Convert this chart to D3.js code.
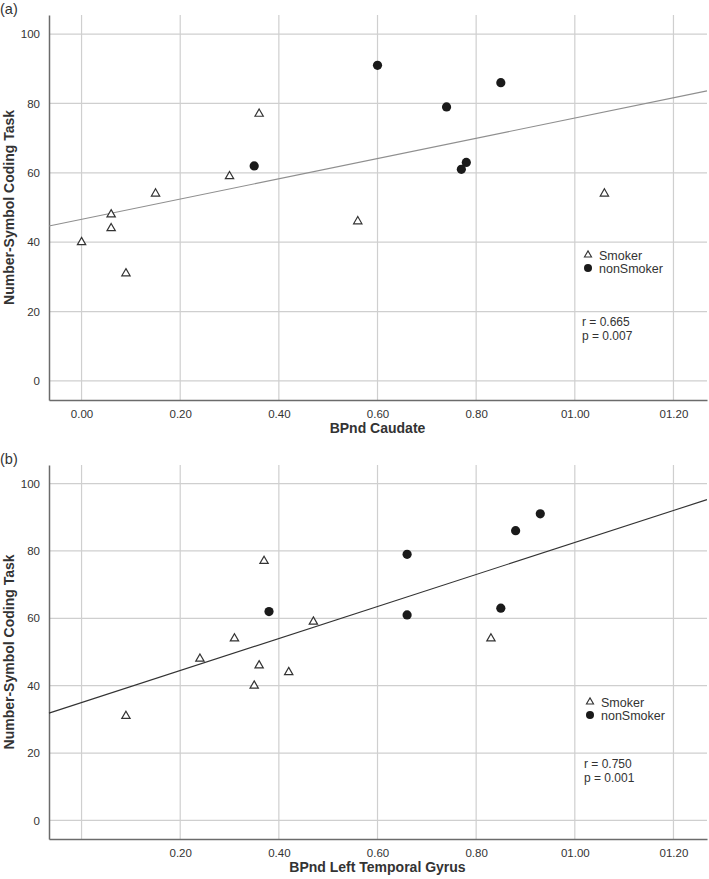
<!DOCTYPE html>
<html><head><meta charset="utf-8">
<script src="https://cdn.jsdelivr.net/npm/d3@7"></script>
<style>body{margin:0;background:#fff}svg{display:block;font-family:"Liberation Sans",Arial,sans-serif}</style>
</head><body><svg id="c" width="709" height="879"></svg>
<script>
// Panel (a): BPnd Caudate
const aSmokerX = [0.00, 0.06, 0.06, 0.09, 0.15, 0.30, 0.36, 0.56, 1.06];
const aSmokerY = [40, 48, 44, 31, 54, 59, 77, 46, 54];
const aNonX = [0.35, 0.60, 0.74, 0.85, 0.78, 0.77];
const aNonY = [62, 91, 79, 86, 63, 61];
const aFit = {intercept: 46.6, slope: 29.2};
const aStats = ["r = 0.665", "p = 0.007"];
// Panel (b): BPnd Left Temporal Gyrus
const bSmokerX = [0.09, 0.24, 0.31, 0.35, 0.36, 0.37, 0.42, 0.47, 0.83];
const bSmokerY = [31, 48, 54, 40, 46, 77, 44, 59, 54];
const bNonX = [0.38, 0.66, 0.66, 0.85, 0.88, 0.93];
const bNonY = [62, 79, 61, 63, 86, 91];
const bFit = {intercept: 35.0, slope: 47.5};
const bStats = ["r = 0.750", "p = 0.001"];

const xTicks = [0, 0.2, 0.4, 0.6, 0.8, 1.0, 1.2];
const aXLabels = ["0.00", "0.20", "0.40", "0.60", "0.80", "01.00", "01.20"];
const bXLabels = ["", "0.20", "0.40", "0.60", "0.80", "01.00", "01.20"];
const yTicks = [0, 20, 40, 60, 80, 100];
const legendLabels = ["Smoker", "nonSmoker"];

const svg = d3.select("#c");

function panel(o) {
  const g = svg.append("g");
  const x = d3.scaleLinear().domain([-0.066, 1.268]).range([49, 707]);
  const y = d3.scaleLinear().domain([-5.5, 105.5]).range([o.bottom, o.top]);
  // grid
  g.selectAll(".vg").data(xTicks).join("line")
    .attr("x1", d => x(d)).attr("x2", d => x(d)).attr("y1", o.top).attr("y2", o.bottom)
    .attr("stroke", "#cfcfcf").attr("stroke-width", 1.2);
  g.selectAll(".hg").data(yTicks).join("line")
    .attr("x1", 49).attr("x2", 707).attr("y1", d => y(d)).attr("y2", d => y(d))
    .attr("stroke", "#cfcfcf").attr("stroke-width", 1.2);
  // axes
  const xa = g.append("g").attr("transform", `translate(0,${o.bottom})`)
    .call(d3.axisBottom(x).tickValues(xTicks).tickSize(0).tickPadding(10)
      .tickFormat((d, i) => o.xLabels[i]));
  xa.select(".domain").attr("stroke", "#6b6b6b").attr("stroke-width", 1.5);
  xa.selectAll("text").attr("font-size", 11.5).attr("fill", "#333").attr("font-family", "Liberation Sans, Arial, sans-serif");
  const ya = g.append("g").attr("transform", `translate(49,0)`)
    .call(d3.axisLeft(y).tickValues(yTicks).tickSize(0).tickPadding(9));
  ya.select(".domain").attr("stroke", "#6b6b6b").attr("stroke-width", 1.5);
  ya.selectAll("text").attr("font-size", 11.5).attr("fill", "#333").attr("font-family", "Liberation Sans, Arial, sans-serif");
  // fit line
  const x0 = -0.066, x1 = 1.268;
  g.append("line")
    .attr("x1", x(x0)).attr("y1", y(o.fit.intercept + o.fit.slope * x0))
    .attr("x2", x(x1)).attr("y2", y(o.fit.intercept + o.fit.slope * x1))
    .attr("stroke", o.fitColor).attr("stroke-width", 1.1);
  // points
  const tri = d3.symbol().type(d3.symbolTriangle).size(30);
  g.selectAll(".s").data(o.sx.map((v, i) => [v, o.sy[i]])).join("path")
    .attr("d", tri).attr("transform", d => `translate(${x(d[0])},${y(d[1])})`)
    .attr("fill", "white").attr("stroke", "#333").attr("stroke-width", 1.2);
  g.selectAll(".n").data(o.nx.map((v, i) => [v, o.ny[i]])).join("circle")
    .attr("cx", d => x(d[0])).attr("cy", d => y(d[1])).attr("r", 4.6)
    .attr("fill", "#1a1a1a");
  // legend
  g.append("path").attr("d", d3.symbol().type(d3.symbolTriangle).size(22))
    .attr("transform", `translate(${o.legX},${o.legY})`)
    .attr("fill", "white").attr("stroke", "#333").attr("stroke-width", 1.1);
  g.append("circle").attr("cx", o.legX).attr("cy", o.legY + 13).attr("r", 4).attr("fill", "#1a1a1a");
  g.selectAll(".lt").data(legendLabels).join("text")
    .attr("x", o.legX + 11).attr("y", (d, i) => o.legY + 4.5 + i * 13)
    .attr("font-size", 12.5).attr("fill", "#333").text(d => d);
  g.selectAll(".st").data(o.stats).join("text")
    .attr("x", o.legX - 6).attr("y", (d, i) => o.statY + i * 14)
    .attr("font-size", 12).attr("fill", "#333").text(d => d);
  // titles
  svg.append("text").attr("x", x(0.6)).attr("y", o.bottom + 33).attr("text-anchor", "middle")
    .attr("font-size", 14).attr("font-weight", "bold").attr("fill", "#333").text(o.xTitle);
  svg.append("text").attr("transform", `translate(14,${(o.top + o.bottom) / 2}) rotate(-90)`)
    .attr("text-anchor", "middle").attr("font-size", 14).attr("font-weight", "bold")
    .attr("fill", "#333").text("Number-Symbol Coding Task");
  svg.append("text").attr("x", 0).attr("y", o.top - 1).attr("font-size", 14.5)
    .attr("fill", "#333").text(o.tag);
}

panel({top: 15, bottom: 400, sx: aSmokerX, sy: aSmokerY, nx: aNonX, ny: aNonY, fit: aFit,
  fitColor: "#8f8f8f", xLabels: aXLabels, stats: aStats, legX: 588, legY: 255, statY: 326,
  xTitle: "BPnd Caudate", tag: "(a)"});
panel({top: 465, bottom: 839, sx: bSmokerX, sy: bSmokerY, nx: bNonX, ny: bNonY, fit: bFit,
  fitColor: "#333", xLabels: bXLabels, stats: bStats, legX: 590, legY: 702, statY: 768,
  xTitle: "BPnd Left Temporal Gyrus", tag: "(b)"});
</script></body></html>
